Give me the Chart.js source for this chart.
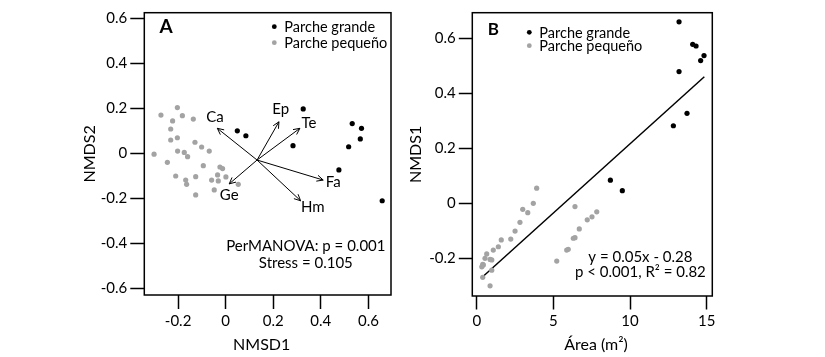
<!DOCTYPE html>
<html><head><meta charset="utf-8">
<script src="https://cdn.jsdelivr.net/npm/chart.js@4/dist/chart.umd.min.js"></script>
<style>
html,body{margin:0;padding:0;background:#fff;width:825px;height:357px;overflow:hidden}
#ca{position:absolute;left:0;top:0}
#cb{position:absolute;left:400px;top:0}
</style></head><body>
<canvas id="ca" width="400" height="357"></canvas>
<canvas id="cb" width="425" height="357"></canvas>
<script>
const seriesNames = ['Parche grande', 'Parche pequeño'];

// ---- Panel A : NMDS ordination ----
const aBigX = [0.326, 0.532, 0.571, 0.049, 0.085, 0.566, 0.283, 0.517, 0.476, 0.658];
const aBigY = [0.197, 0.132, 0.111, 0.100, 0.078, 0.064, 0.034, 0.029, -0.074, -0.211];
const aSmallX = [-0.203, -0.272, -0.182, -0.223, -0.136, -0.231, -0.203, -0.231, -0.129, -0.101,
  -0.069, -0.202, -0.174, -0.301, -0.160, -0.245, -0.094, -0.024, -0.013, -0.210,
  -0.168, -0.164, -0.126, -0.059, -0.031, -0.034, 0.001, -0.048, 0.053, -0.126];
const aSmallY = [0.203, 0.170, 0.167, 0.144, 0.152, 0.108, 0.069, 0.059, 0.049, 0.028,
  0.010, 0.010, 0.004, -0.004, -0.015, -0.040, -0.055, -0.061, -0.068, -0.101,
  -0.119, -0.138, -0.104, -0.119, -0.123, -0.096, -0.105, -0.163, -0.138, -0.185];
const vectorNames = ['Ca', 'Ep', 'Te', 'Fa', 'Hm', 'Ge'];
const vectorOriginX = 0.132, vectorOriginY = -0.030;
const vectorTipX = [-0.035, 0.224, 0.312, 0.410, 0.315, 0.015];
const vectorTipY = [0.111, 0.140, 0.111, -0.119, -0.211, -0.136];
const vectorLabelX = [-0.045, 0.231, 0.350, 0.452, 0.366, 0.015];
const vectorLabelY = [0.161, 0.197, 0.136, -0.129, -0.240, -0.188];
const aTicksX = [-0.2, 0, 0.2, 0.4, 0.6];
const aTicksY = [-0.6, -0.4, -0.2, 0, 0.2, 0.4, 0.6];
const aStats = ['PerMANOVA: p = 0.001', 'Stress = 0.105'];

// ---- Panel B : NMDS1 vs patch area ----
const bBigX = [13.2, 14.09, 14.31, 14.83, 14.61, 13.2, 13.72, 12.83, 8.72, 9.50];
const bBigY = [0.660, 0.578, 0.572, 0.537, 0.519, 0.479, 0.327, 0.282, 0.084, 0.046];
const bSmallX = [3.91, 3.69, 3.00, 3.33, 2.82, 2.50, 2.22, 1.60, 1.41, 1.08,
  0.65, 0.54, 0.87, 0.98, 0.39, 0.33, 0.43, 0.98, 0.39, 0.87,
  6.41, 7.83, 7.52, 7.21, 6.69, 6.41, 6.30, 5.97, 5.87, 5.22];
const bSmallY = [0.055, 0.000, -0.022, -0.034, -0.069, -0.101, -0.130, -0.133, -0.158, -0.170,
  -0.184, -0.200, -0.204, -0.206, -0.222, -0.231, -0.224, -0.243, -0.269, -0.300,
  -0.012, -0.031, -0.049, -0.060, -0.093, -0.125, -0.127, -0.167, -0.170, -0.210];
const fitX = [0.39, 14.85];
const fitY = [-0.267, 0.460];
const bTicksX = [0, 5, 10, 15];
const bTicksY = [-0.2, 0, 0.2, 0.4, 0.6];
const bStats = ['y = 0.05x - 0.28', 'p < 0.001, R\u00b2 = 0.82'];

const FONT = 'Lato, "Open Sans", sans-serif';
const GRAY = '#a3a3a3';
const pts = (xs, ys) => xs.map((x, i) => ({x: x, y: ys[i]}));
const fmt = v => String(Math.round(v * 10) / 10);

function axis(min, max, ticks, tickLen, fitSize, isY, title) {
  const o = {
    type: 'linear', min: min, max: max,
    afterBuildTicks: s => { s.ticks = ticks.map(v => ({value: v})); },
    afterFit: s => { if (isY) s.width = fitSize; else s.height = fitSize; },
    grid: {display: true, drawOnChartArea: false, drawTicks: true, tickLength: tickLen,
           tickWidth: 1.5, tickColor: '#000'},
    border: {display: false},
    ticks: {color: '#000', font: {family: FONT, size: 15}, padding: 3, autoSkip: false,
            maxRotation: 0, callback: fmt}
  };
  if (title) o.title = {display: true, text: title, color: '#000',
                        font: {family: FONT, size: 16}, padding: 0};
  return o;
}

function legendAndFrame(opts) {
  return {
    id: 'deco',
    afterDatasetsDraw(chart) {
      const c = chart.ctx, a = chart.chartArea;
      const xs = chart.scales.x, ys = chart.scales.y;
      c.save();
      // frame
      c.strokeStyle = '#000'; c.lineWidth = 1.5;
      c.strokeRect(a.left, a.top, a.right - a.left, a.bottom - a.top);
      // panel letter
      c.fillStyle = '#000';
      c.font = 'bold ' + opts.letterSize + 'px ' + FONT;
      c.textAlign = 'center'; c.textBaseline = 'middle';
      c.fillText(opts.letter, a.left + opts.letterDx, a.top + opts.letterDy);
      // legend
      c.font = '14.5px ' + FONT; c.textAlign = 'left';
      [['#000', seriesNames[0]], [GRAY, seriesNames[1]]].forEach((e, i) => {
        const yy = a.top + opts.legDy + i * opts.legGap;
        c.fillStyle = e[0];
        c.beginPath(); c.arc(a.left + opts.legDx, yy, 2.4, 0, Math.PI * 2); c.fill();
        c.fillStyle = '#000';
        c.fillText(e[1], a.left + opts.legDx + 10, yy + 1);
      });
      // stats text
      c.font = '15px ' + FONT; c.textAlign = 'center';
      opts.stats.forEach((t, i) => {
        c.fillText(t, xs.getPixelForValue(opts.statX), ys.getPixelForValue(opts.statY[i]));
      });
      // x title
      c.font = '16px ' + FONT;
      c.fillText(opts.xTitle, a.left + opts.xTitleDx, 344.5);
      if (opts.extra) opts.extra(chart, c, xs, ys);
      c.restore();
    }
  };
}

function drawVectors(chart, c, xs, ys) {
  const ox = xs.getPixelForValue(vectorOriginX), oy = ys.getPixelForValue(vectorOriginY);
  c.strokeStyle = '#000'; c.lineWidth = 1;
  c.font = '15px ' + FONT; c.fillStyle = '#000'; c.textAlign = 'center'; c.textBaseline = 'middle';
  vectorNames.forEach((n, i) => {
    const tx = xs.getPixelForValue(vectorTipX[i]), ty = ys.getPixelForValue(vectorTipY[i]);
    const ang = Math.atan2(ty - oy, tx - ox), h = 7, w = 0.45;
    c.beginPath();
    c.moveTo(ox, oy); c.lineTo(tx, ty);
    c.moveTo(tx - h * Math.cos(ang - w), ty - h * Math.sin(ang - w));
    c.lineTo(tx, ty);
    c.lineTo(tx - h * Math.cos(ang + w), ty - h * Math.sin(ang + w));
    c.stroke();
    c.fillText(n, xs.getPixelForValue(vectorLabelX[i]), ys.getPixelForValue(vectorLabelY[i]));
  });
}

const common = (pad, scales, datasets, plugin) => ({
  type: 'scatter',
  data: {datasets: datasets},
  options: {
    responsive: false, animation: false, devicePixelRatio: 1,
    layout: {padding: pad},
    plugins: {legend: {display: false}, tooltip: {enabled: false}},
    scales: scales
  },
  plugins: [plugin]
});

new Chart(document.getElementById('ca'), common(
  {left: 80, right: 9, top: 12.7, bottom: 0},
  {x: axis(-0.342, 0.695, aTicksX, 14, 62, false, null),
   y: axis(-0.630, 0.625, aTicksY, 14, 64.3, true, 'NMDS2')},
  [
    {label: seriesNames[1], data: pts(aSmallX, aSmallY), pointRadius: 2.6, backgroundColor: GRAY, borderWidth: 0},
    {label: seriesNames[0], data: pts(aBigX, aBigY), pointRadius: 2.6, backgroundColor: '#000', borderWidth: 0}
  ],
  legendAndFrame({letter: 'A', letterSize: 19, letterDx: 21.7, letterDy: 14.5,
    legDx: 130, legDy: 14, legGap: 16, stats: aStats, statX: 0.337, statY: [-0.415, -0.489],
    xTitle: 'NMSD1', xTitleDx: 117.4, extra: drawVectors})
));

new Chart(document.getElementById('cb'), common(
  {left: 6, right: 112.7, top: 12.7, bottom: 0},
  {x: axis(-0.29, 15.37, bTicksX, 13.5, 61, false, null),
   y: axis(-0.337, 0.693, bTicksY, 13.5, 66.3, true, 'NMDS1')},
  [
    {label: seriesNames[1], data: pts(bSmallX, bSmallY), pointRadius: 2.6, backgroundColor: GRAY, borderWidth: 0},
    {label: seriesNames[0], data: pts(bBigX, bBigY), pointRadius: 2.6, backgroundColor: '#000', borderWidth: 0},
    {type: 'line', label: 'fit', data: pts(fitX, fitY), showLine: true, pointRadius: 0,
     borderColor: '#000', borderWidth: 1.5, fill: false}
  ],
  legendAndFrame({letter: 'B', letterSize: 17, letterDx: 21, letterDy: 16.5,
    legDx: 57, legDy: 19.6, legGap: 13.4, stats: bStats, statX: 10.68, statY: [-0.194, -0.252],
    xTitle: '\u00c1rea (m\u00b2)', xTitleDx: 123.7})
));
</script>
</body></html>
